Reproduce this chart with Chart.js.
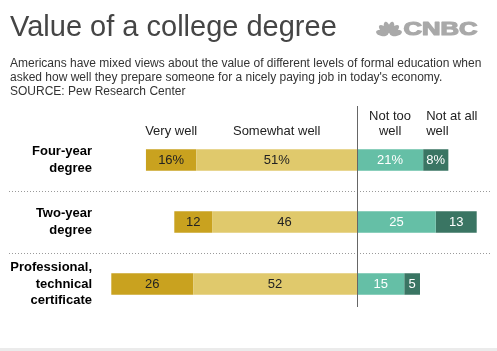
<!DOCTYPE html>
<html>
<head>
<meta charset="utf-8">
<script src="https://cdn.jsdelivr.net/npm/chart.js@4/dist/chart.umd.min.js"></script>
<style>
  html, body { margin: 0; padding: 0; background: #fff; }
  #wrap { position: relative; width: 497px; height: 351px; overflow: hidden; background: #fff; }
  #band { position: absolute; left: 0; top: 348px; width: 497px; height: 3px; background: #ebebeb; }
  canvas { position: absolute; left: 0; top: 0; }
</style>
</head>
<body>
<div id="wrap">
  <div id="band"></div>
  <canvas id="c" width="497" height="351"></canvas>
</div>
<script>
// ---- data ----
const title = 'Value of a college degree';
const subtitleLines = [
  'Americans have mixed views about the value of different levels of formal education when',
  "asked how well they prepare someone for a nicely paying job in today's economy.",
  'SOURCE: Pew Research Center'
];
const categories = [['Four-year', 'degree'], ['Two-year', 'degree'], ['Professional,', 'technical', 'certificate']];
const seriesNames = [['Very well'], ['Somewhat well'], ['Not too', 'well'], ['Not at all', 'well']];
const veryWell = [16, 12, 26];
const somewhatWell = [51, 46, 52];
const notTooWell = [21, 25, 15];
const notAtAllWell = [8, 13, 5];
const xMin = -80, xMax = 42;

const FONT = '"Liberation Sans", Arial, sans-serif';
const colors = { very: '#c9a21f', somewhat: '#e0c96c', notToo: '#65bfa6', notAtAll: '#3a7563' };

// datasets in stacking order (negatives stack outward from 0)
const datasets = [
  { key: 1, label: seriesNames[1].join(' '), raw: somewhatWell, data: somewhatWell.map(v => -v), backgroundColor: colors.somewhat, textColor: '#222' },
  { key: 0, label: seriesNames[0].join(' '), raw: veryWell, data: veryWell.map(v => -v), backgroundColor: colors.very, textColor: '#222' },
  { key: 2, label: seriesNames[2].join(' '), raw: notTooWell, data: notTooWell.slice(), backgroundColor: colors.notToo, textColor: '#fff' },
  { key: 3, label: seriesNames[3].join(' '), raw: notAtAllWell, data: notAtAllWell.slice(), backgroundColor: colors.notAtAll, textColor: '#fff' }
];

const decor = {
  id: 'decor',
  beforeDatasetsDraw(chart) {
    const ctx = chart.ctx;
    const y = chart.scales.y;
    ctx.save();
    ctx.strokeStyle = '#9a9a9a';
    ctx.lineWidth = 1;
    ctx.setLineDash([1, 2]);
    for (let i = 0; i < categories.length - 1; i++) {
      const py = Math.round((y.getPixelForValue(i) + y.getPixelForValue(i + 1)) / 2) + 0.5;
      ctx.beginPath();
      ctx.moveTo(9, py);
      ctx.lineTo(490, py);
      ctx.stroke();
    }
    ctx.restore();
  },
  afterDatasetsDraw(chart) {
    const ctx = chart.ctx;
    const x = chart.scales.x;
    ctx.save();
    const zx = Math.round(x.getPixelForValue(0)) + 0.5;
    ctx.strokeStyle = '#666';
    ctx.lineWidth = 1;
    ctx.beginPath();
    ctx.moveTo(zx, 106);
    ctx.lineTo(zx, 307);
    ctx.stroke();

    ctx.font = '13px ' + FONT;
    ctx.textBaseline = 'middle';
    ctx.textAlign = 'center';
    chart.data.datasets.forEach((ds, di) => {
      const meta = chart.getDatasetMeta(di);
      meta.data.forEach((el, i) => {
        const cx = (el.x + el.base) / 2;
        ctx.fillStyle = ds.textColor;
        ctx.fillText(ds.raw[i] + (i === 0 ? '%' : ''), cx, el.y + 0.5);
      });
      const el0 = meta.data[0];
      const lines = seriesNames[ds.key];
      ctx.fillStyle = '#222';
      ctx.textBaseline = 'alphabetic';
      let tx, align;
      if (ds.key === 3) { tx = Math.min(el0.x, el0.base) + 3; align = 'left'; }
      else { tx = (el0.x + el0.base) / 2; align = 'center'; }
      ctx.textAlign = align;
      for (let k = 0; k < lines.length; k++) {
        const by = 134.5 - (lines.length - 1 - k) * 15;
        ctx.fillText(lines[k], tx, by);
      }
      ctx.textAlign = 'center';
      ctx.textBaseline = 'middle';
    });

    ctx.textAlign = 'left';
    ctx.textBaseline = 'alphabetic';
    ctx.fillStyle = '#454545';
    ctx.font = '29px ' + FONT;
    ctx.fillText(title, 10, 36);
    ctx.fillStyle = '#333';
    ctx.font = '12px ' + FONT;
    subtitleLines.forEach((l, i) => ctx.fillText(l, 10, 66.5 + i * 14));

    // CNBC logo
    ctx.fillStyle = '#a9a9a9';
    ctx.strokeStyle = '#a9a9a9';
    ctx.lineWidth = 1.2;
    ctx.lineJoin = 'round';
    ctx.font = 'bold 18px ' + FONT;
    const w = ctx.measureText('CNBC').width;
    ctx.save();
    ctx.translate(403.5, 34.5);
    ctx.scale(74 / w, 1);
    ctx.fillText('CNBC', 0, 0);
    ctx.strokeText('CNBC', 0, 0);
    ctx.restore();
    const pcx = 389, pcy = 34.5;
    const angles = [-78, -47, -16, 16, 47, 78];
    angles.forEach(a => {
      ctx.save();
      ctx.translate(pcx, pcy);
      ctx.rotate(a * Math.PI / 180);
      ctx.beginPath();
      ctx.ellipse(0, -7.2, 3.0, 6.0, 0, 0, Math.PI * 2);
      ctx.fill();
      ctx.restore();
    });
    ctx.restore();
  }
};

new Chart(document.getElementById('c'), {
  type: 'bar',
  data: { labels: categories, datasets },
  options: {
    indexAxis: 'y',
    responsive: false,
    animation: false,
    devicePixelRatio: 1,
    layout: { padding: { left: 0, right: 7.7, top: 129, bottom: 36 } },
    plugins: { legend: { display: false }, tooltip: { enabled: false } },
    datasets: { bar: { barPercentage: 0.35, categoryPercentage: 1, borderWidth: 0 } },
    scales: {
      x: { type: 'linear', stacked: true, min: xMin, max: xMax, display: false },
      y: {
        type: 'category', stacked: true, position: 'left',
        afterFit(s) { s.width = 105; },
        grid: { display: false, drawTicks: false },
        border: { display: false },
        ticks: { padding: 13, color: '#000', font: { family: FONT, size: 13, weight: 'bold', lineHeight: 1.27 } }
      }
    }
  },
  plugins: [decor]
});
</script>
</body>
</html>
